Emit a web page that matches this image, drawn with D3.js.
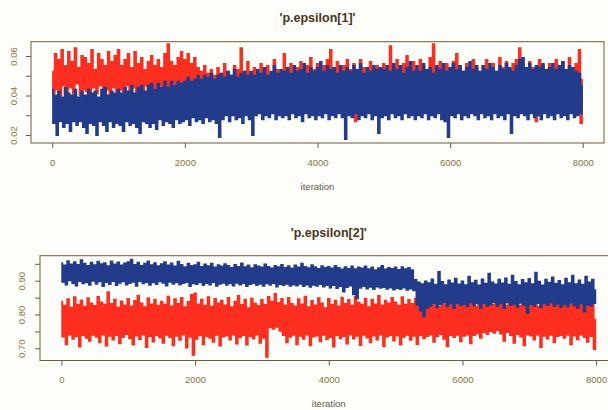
<!DOCTYPE html>
<html>
<head>
<meta charset="utf-8">
<script src="https://cdn.jsdelivr.net/npm/d3@7"></script>
<style>
  html, body { margin: 0; padding: 0; background: #fdfdf9; }
  svg { display: block; }
  text { font-family: "Liberation Sans", Arial, sans-serif; }
</style>
</head>
<body>
<svg id="chart" width="608" height="410"></svg>
<script>
// ---------- data ----------
const titles = ["'p.epsilon[1]'", "'p.epsilon[2]'"];
const xLabel = "iteration";
const xTicks = [0, 2000, 4000, 6000, 8000];
const yTicks1 = [0.02, 0.03, 0.04, 0.05, 0.06];
const yTickLabels1 = ["0.02", "", "0.04", "", "0.06"];
const yTicks2 = [0.70, 0.75, 0.80, 0.85, 0.90, 0.95];
const yTickLabels2 = ["0.70", "", "0.80", "", "0.90", ""];
const iterStep = 25; // one stored sample every 25 iterations, 0..8000

// p.epsilon[1], chain 1 (red)
const eps1Chain1 = [
0.052,0.041,0.061,0.043,0.058,0.040,0.063,0.045,0.055,0.039,0.062,0.044,0.057,0.041,0.064,0.046,0.054,0.040,0.060,0.043,
0.059,0.042,0.056,0.038,0.063,0.044,0.053,0.041,0.061,0.045,0.058,0.040,0.055,0.043,0.062,0.039,0.057,0.044,0.060,0.041,
0.063,0.043,0.055,0.040,0.058,0.045,0.061,0.041,0.054,0.044,0.062,0.039,0.056,0.043,0.059,0.042,0.053,0.045,0.057,0.040,
0.060,0.043,0.055,0.041,0.058,0.045,0.054,0.040,0.061,0.044,0.066,0.042,0.057,0.046,0.055,0.041,0.059,0.044,0.062,0.042,
0.058,0.045,0.061,0.043,0.056,0.041,0.059,0.044,0.054,0.040,0.052,0.036,0.055,0.038,0.051,0.035,0.053,0.037,0.050,0.034,
0.054,0.036,0.051,0.033,0.056,0.037,0.052,0.035,0.050,0.032,0.055,0.038,0.053,0.034,0.064,0.036,0.052,0.033,0.057,0.037,
0.051,0.034,0.054,0.036,0.050,0.032,0.056,0.038,0.052,0.035,0.055,0.033,0.050,0.037,0.058,0.034,0.053,0.036,0.051,0.033,
0.061,0.036,0.053,0.034,0.056,0.038,0.051,0.032,0.054,0.036,0.057,0.035,0.052,0.033,0.055,0.037,0.059,0.034,0.053,0.036,
0.056,0.035,0.052,0.033,0.055,0.037,0.058,0.034,0.063,0.036,0.054,0.032,0.057,0.035,0.052,0.038,0.055,0.034,0.058,0.036,
0.053,0.033,0.056,0.027,0.051,0.035,0.058,0.034,0.054,0.036,0.052,0.032,0.057,0.035,0.053,0.033,0.055,0.037,0.050,0.034,
0.056,0.035,0.053,0.033,0.065,0.036,0.054,0.034,0.058,0.037,0.052,0.033,0.056,0.035,0.060,0.032,0.054,0.036,0.057,0.034,
0.053,0.036,0.058,0.033,0.055,0.035,0.052,0.037,0.059,0.034,0.066,0.036,0.054,0.033,0.057,0.035,0.053,0.032,0.056,0.036,
0.054,0.034,0.057,0.036,0.061,0.033,0.055,0.035,0.052,0.037,0.056,0.034,0.053,0.036,0.058,0.033,0.054,0.035,0.051,0.037,
0.055,0.034,0.058,0.036,0.053,0.033,0.056,0.035,0.052,0.037,0.059,0.034,0.054,0.036,0.057,0.032,0.053,0.035,0.056,0.034,
0.058,0.035,0.064,0.033,0.056,0.036,0.053,0.034,0.057,0.035,0.054,0.033,0.027,0.036,0.058,0.034,0.055,0.036,0.052,0.033,
0.056,0.035,0.053,0.034,0.058,0.036,0.054,0.033,0.057,0.035,0.052,0.034,0.059,0.036,0.054,0.033,0.056,0.035,0.063,0.026,
0.048];

// p.epsilon[1], chain 2 (blue)
const eps1Chain2 = [
0.043,0.026,0.040,0.020,0.042,0.027,0.039,0.024,0.044,0.026,0.041,0.022,0.040,0.027,0.043,0.025,0.039,0.027,0.042,0.024,
0.040,0.021,0.043,0.026,0.041,0.025,0.042,0.020,0.039,0.027,0.043,0.025,0.044,0.022,0.040,0.027,0.042,0.024,0.041,0.026,
0.043,0.025,0.041,0.022,0.044,0.027,0.042,0.025,0.045,0.026,0.041,0.024,0.044,0.021,0.045,0.027,0.042,0.026,0.045,0.024,
0.046,0.026,0.043,0.023,0.046,0.028,0.044,0.025,0.047,0.027,0.044,0.026,0.047,0.024,0.045,0.028,0.047,0.026,0.046,0.027,
0.047,0.028,0.049,0.025,0.047,0.029,0.048,0.027,0.050,0.028,0.048,0.026,0.050,0.029,0.049,0.027,0.051,0.028,0.048,0.026,
0.050,0.019,0.051,0.028,0.049,0.030,0.052,0.027,0.050,0.030,0.053,0.028,0.049,0.029,0.051,0.026,0.052,0.030,0.050,0.028,
0.052,0.020,0.050,0.030,0.053,0.031,0.051,0.028,0.054,0.030,0.050,0.029,0.052,0.031,0.055,0.028,0.051,0.030,0.053,0.029,
0.052,0.030,0.054,0.028,0.051,0.031,0.055,0.029,0.052,0.030,0.053,0.027,0.056,0.031,0.051,0.029,0.054,0.030,0.052,0.028,
0.054,0.030,0.057,0.029,0.052,0.031,0.055,0.028,0.053,0.030,0.054,0.029,0.051,0.031,0.055,0.029,0.052,0.018,0.054,0.030,
0.052,0.029,0.055,0.031,0.053,0.028,0.056,0.030,0.051,0.029,0.054,0.031,0.052,0.028,0.055,0.030,0.053,0.021,0.054,0.029,
0.053,0.030,0.055,0.028,0.052,0.031,0.056,0.029,0.053,0.030,0.055,0.028,0.051,0.031,0.054,0.029,0.057,0.030,0.052,0.028,
0.055,0.030,0.052,0.029,0.056,0.031,0.053,0.028,0.054,0.030,0.051,0.029,0.055,0.031,0.053,0.028,0.056,0.027,0.052,0.019,
0.054,0.030,0.056,0.029,0.053,0.031,0.055,0.028,0.052,0.030,0.054,0.029,0.057,0.031,0.053,0.030,0.055,0.028,0.052,0.031,
0.055,0.029,0.053,0.030,0.056,0.028,0.054,0.031,0.052,0.029,0.055,0.030,0.053,0.028,0.056,0.031,0.054,0.021,0.052,0.030,
0.055,0.029,0.058,0.031,0.059,0.030,0.054,0.028,0.056,0.031,0.053,0.029,0.055,0.030,0.054,0.028,0.056,0.031,0.053,0.029,
0.054,0.030,0.056,0.028,0.053,0.031,0.055,0.029,0.057,0.030,0.053,0.028,0.055,0.031,0.054,0.029,0.052,0.030,0.051,0.031,
0.045];

// p.epsilon[2], chain 1 (red)
const eps2Chain1 = [
0.838,0.735,0.826,0.712,0.845,0.741,0.820,0.728,0.851,0.736,0.829,0.705,0.842,0.739,0.823,0.731,0.848,0.722,0.833,0.740,
0.825,0.734,0.852,0.718,0.836,0.741,0.829,0.708,0.866,0.737,0.831,0.726,0.844,0.739,0.821,0.715,0.839,0.733,0.827,0.742,
0.846,0.730,0.824,0.711,0.840,0.738,0.856,0.727,0.833,0.741,0.822,0.704,0.848,0.736,0.830,0.720,0.843,0.739,0.826,0.732,
0.838,0.716,0.829,0.740,0.853,0.733,0.824,0.709,0.845,0.737,0.831,0.725,0.849,0.741,0.822,0.702,0.837,0.734,0.858,0.681,
0.862,0.728,0.830,0.739,0.844,0.712,0.826,0.736,0.851,0.731,0.823,0.719,0.846,0.740,0.833,0.708,0.841,0.735,0.827,0.738,
0.849,0.726,0.822,0.741,0.838,0.714,0.855,0.733,0.828,0.739,0.844,0.711,0.819,0.736,0.847,0.729,0.832,0.741,0.825,0.716,
0.843,0.731,0.828,0.675,0.852,0.762,0.838,0.758,0.861,0.764,0.834,0.752,0.846,0.739,0.826,0.718,0.849,0.734,0.831,0.740,
0.824,0.712,0.845,0.737,0.830,0.728,0.853,0.741,0.822,0.709,0.840,0.735,0.827,0.738,0.848,0.721,0.833,0.740,0.819,0.727,
0.846,0.733,0.828,0.705,0.841,0.739,0.824,0.730,0.850,0.736,0.831,0.714,0.843,0.741,0.826,0.729,0.852,0.737,0.835,0.710,
0.829,0.740,0.847,0.732,0.822,0.718,0.844,0.738,0.830,0.726,0.855,0.741,0.827,0.707,0.841,0.735,0.833,0.739,0.849,0.723,
0.836,0.738,0.826,0.711,0.851,0.734,0.829,0.740,0.843,0.725,0.831,0.737,0.847,0.713,0.824,0.739,0.838,0.730,0.852,0.736,
0.828,0.741,0.845,0.719,0.833,0.736,0.822,0.742,0.849,0.728,0.830,0.706,0.841,0.739,0.826,0.733,0.854,0.740,0.832,0.721,
0.843,0.737,0.827,0.741,0.850,0.715,0.834,0.739,0.823,0.744,0.846,0.731,0.829,0.748,0.852,0.742,0.836,0.751,0.828,0.746,
0.845,0.753,0.831,0.744,0.849,0.722,0.826,0.748,0.840,0.739,0.854,0.716,0.833,0.742,0.825,0.735,0.848,0.709,0.837,0.741,
0.829,0.738,0.851,0.726,0.835,0.741,0.823,0.704,0.846,0.737,0.831,0.729,0.857,0.740,0.834,0.718,0.842,0.736,0.827,0.739,
0.848,0.731,0.836,0.740,0.853,0.712,0.829,0.738,0.860,0.727,0.838,0.741,0.864,0.733,0.846,0.719,0.852,0.736,0.840,0.698,
0.785];

// p.epsilon[2], chain 2 (blue)
const eps2Chain2 = [
0.952,0.897,0.945,0.889,0.958,0.901,0.948,0.893,0.955,0.886,0.947,0.899,0.961,0.892,0.950,0.895,0.944,0.888,0.953,0.900,
0.946,0.891,0.956,0.898,0.949,0.884,0.952,0.896,0.943,0.890,0.957,0.899,0.948,0.887,0.954,0.894,0.945,0.898,0.951,0.889,
0.955,0.893,0.962,0.897,0.947,0.885,0.953,0.899,0.944,0.892,0.950,0.896,0.957,0.888,0.946,0.895,0.952,0.890,0.943,0.898,
0.949,0.894,0.955,0.886,0.945,0.897,0.951,0.891,0.942,0.895,0.956,0.889,0.947,0.893,0.940,0.896,0.950,0.884,0.944,0.892,
0.946,0.890,0.953,0.895,0.941,0.887,0.948,0.893,0.943,0.889,0.950,0.896,0.939,0.885,0.946,0.891,0.942,0.894,0.949,0.888,
0.944,0.892,0.938,0.886,0.947,0.894,0.941,0.889,0.951,0.893,0.940,0.884,0.945,0.890,0.937,0.893,0.946,0.887,0.942,0.891,
0.939,0.885,0.948,0.892,0.941,0.888,0.936,0.893,0.944,0.883,0.940,0.890,0.947,0.887,0.938,0.891,0.943,0.885,0.936,0.889,
0.945,0.886,0.939,0.891,0.950,0.884,0.941,0.889,0.937,0.882,0.946,0.888,0.940,0.885,0.935,0.890,0.943,0.883,0.938,0.887,
0.941,0.880,0.936,0.887,0.944,0.878,0.938,0.884,0.933,0.868,0.940,0.881,0.935,0.886,0.942,0.860,0.934,0.848,0.939,0.879,
0.936,0.884,0.942,0.877,0.934,0.882,0.939,0.875,0.931,0.883,0.937,0.879,0.944,0.881,0.933,0.876,0.938,0.880,0.935,0.874,
0.939,0.878,0.932,0.875,0.940,0.880,0.934,0.873,0.938,0.877,0.931,0.872,0.902,0.829,0.895,0.812,0.890,0.795,0.898,0.820,
0.893,0.826,0.904,0.834,0.888,0.821,0.926,0.830,0.896,0.836,0.887,0.824,0.901,0.832,0.892,0.819,0.906,0.835,0.889,0.828,
0.898,0.831,0.887,0.824,0.912,0.836,0.893,0.827,0.900,0.833,0.886,0.820,0.904,0.834,0.891,0.826,0.921,0.830,0.895,0.837,
0.889,0.825,0.903,0.833,0.892,0.819,0.907,0.836,0.888,0.828,0.915,0.832,0.896,0.823,0.887,0.835,0.902,0.827,0.893,0.804,
0.905,0.831,0.890,0.826,0.924,0.834,0.897,0.821,0.886,0.833,0.903,0.828,0.894,0.836,0.910,0.825,0.891,0.832,0.899,0.822,
0.887,0.830,0.906,0.824,0.893,0.835,0.915,0.827,0.890,0.820,0.901,0.833,0.888,0.809,0.912,0.829,0.895,0.826,0.903,0.834,
0.872];

// ---------- layout / style ----------
const colRed = "#fb2e20";
const colBlue = "#223c8b";
const colBox = "#6e5b3e";
const colTick = "#8a7443";
const colTitle = "#4a3422";
const colLab = "#66584a";

const panels = [
  { title: titles[0], series: [eps1Chain1, eps1Chain2],
    box: { x0: 31, x1: 604, y0: 41.7, y1: 143 },
    yDomain: [0.01595, 0.06724], yTicks: yTicks1, yLabels: yTickLabels1,
    titleY: 18, xLabY: 162, labY: 186, yLabX: 13.5 },
  { title: titles[1], series: [eps2Chain1, eps2Chain2],
    box: { x0: 40, x1: 617.5, y0: 255.7, y1: 360.5 },
    yDomain: [0.664, 0.974], yTicks: yTicks2, yLabels: yTickLabels2,
    titleY: 233, xLabY: 379, labY: 403, yLabX: 21.5 }
];

const svg = d3.select("#chart");

panels.forEach(p => {
  const x = d3.scaleLinear().domain([-320, 8320]).range([p.box.x0, p.box.x1]);
  const y = d3.scaleLinear().domain(p.yDomain).range([p.box.y1, p.box.y0]);
  const g = svg.append("g");

  const clipId = "clip" + p.titleY;
  g.append("clipPath").attr("id", clipId).append("rect")
    .attr("x", p.box.x0).attr("y", p.box.y0)
    .attr("width", p.box.x1 - p.box.x0).attr("height", p.box.y1 - p.box.y0);

  // dense MCMC trace: step segments so adjacent draws fuse into a solid band
  const line = d3.line()
    .curve(d3.curveStep)
    .x((d, i) => x(i * iterStep))
    .y(d => y(d));

  const colors = [colRed, colBlue];
  p.series.forEach((s, k) => {
    g.append("path")
      .attr("clip-path", `url(#${clipId})`)
      .attr("d", line(s))
      .attr("fill", "none")
      .attr("stroke", colors[k])
      .attr("stroke-width", 1.9);
  });

  // box
  g.append("rect")
    .attr("x", p.box.x0).attr("y", p.box.y0)
    .attr("width", p.box.x1 - p.box.x0).attr("height", p.box.y1 - p.box.y0)
    .attr("fill", "none").attr("stroke", colBox).attr("stroke-width", 1);

  // x axis
  const xa = g.append("g").attr("transform", `translate(0,${p.box.y1})`)
    .call(d3.axisBottom(x).tickValues(xTicks).tickSize(5).tickPadding(0).tickFormat(d3.format("d")));
  xa.select(".domain").remove();
  xa.selectAll(".tick line").attr("stroke", colBox);
  xa.selectAll(".tick text").attr("fill", colTick).attr("font-size", 9.5)
    .attr("y", null).attr("dy", null)
    .attr("dominant-baseline", "central")
    .attr("transform", `translate(0,${p.xLabY - p.box.y1})`);

  // y axis
  const ya = g.append("g").attr("transform", `translate(${p.box.x0},0)`)
    .call(d3.axisLeft(y).tickValues(p.yTicks).tickSize(5)
      .tickFormat((d, i) => p.yLabels[i]));
  ya.select(".domain").remove();
  ya.selectAll(".tick line").attr("stroke", colBox);
  ya.selectAll(".tick text").attr("fill", colTick).attr("font-size", 9.5)
    .attr("x", null).attr("dy", null)
    .attr("text-anchor", "middle").attr("dominant-baseline", "central")
    .attr("transform", `translate(${p.yLabX - p.box.x0},0) rotate(-90)`);

  // title
  g.append("text")
    .attr("x", (p.box.x0 + p.box.x1) / 2).attr("y", p.titleY)
    .attr("text-anchor", "middle").attr("dominant-baseline", "central")
    .attr("font-weight", "bold").attr("font-size", 12.5)
    .attr("fill", colTitle).text(p.title);

  // x label
  g.append("text")
    .attr("x", (p.box.x0 + p.box.x1) / 2).attr("y", p.labY)
    .attr("text-anchor", "middle").attr("dominant-baseline", "central")
    .attr("font-size", 9.5).attr("fill", colLab).text(xLabel);
});
</script>
</body>
</html>
